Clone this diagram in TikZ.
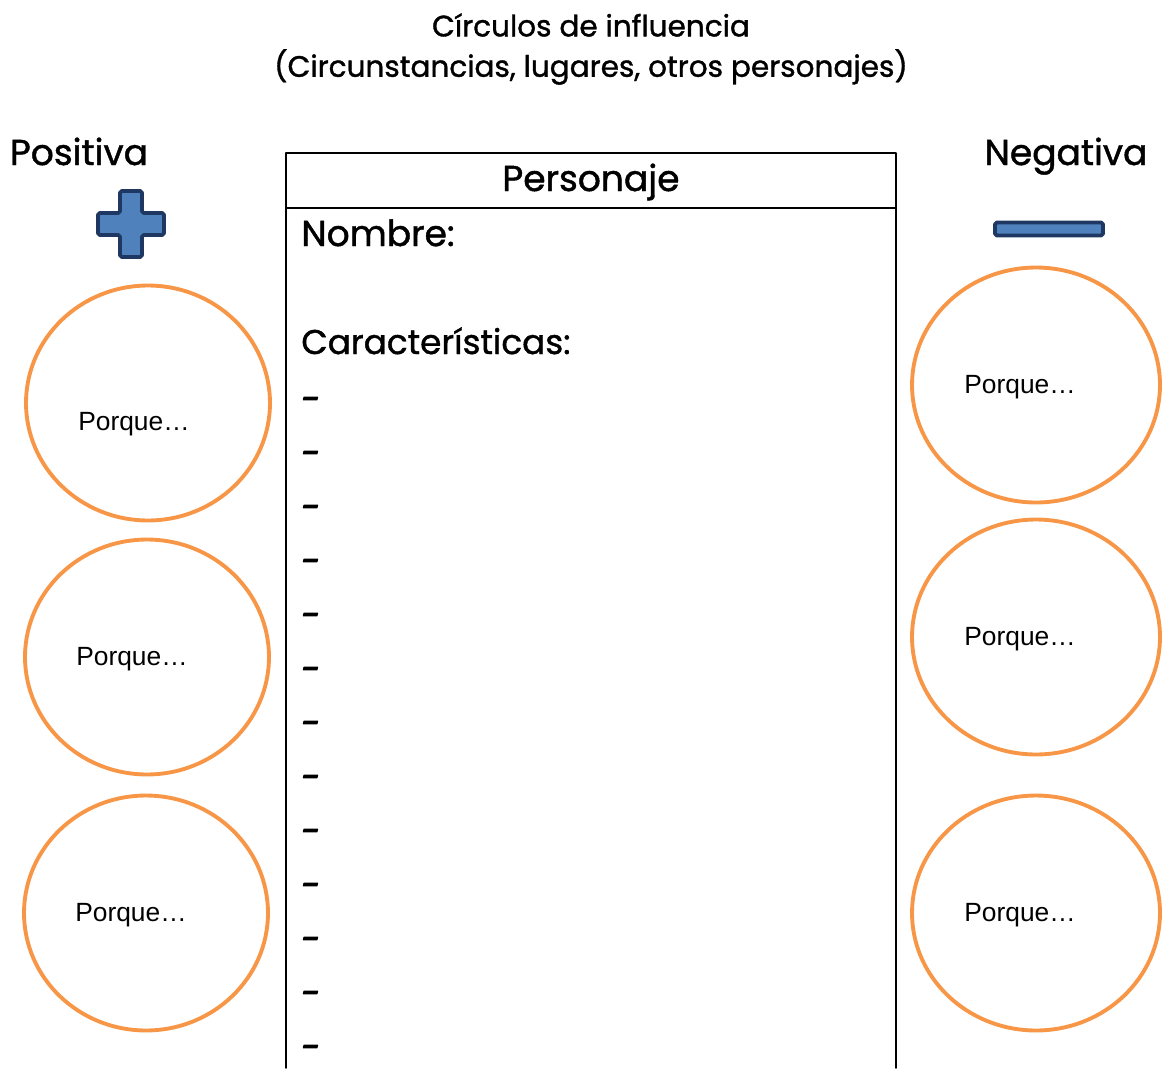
\documentclass[tikz,border=0pt]{standalone}
\usepackage{fontspec}
\setmainfont{Poppins}
\newfontfamily\headfont{Poppins}[FakeBold=1.2]
\newfontfamily\dashfont{Poppins}[FakeBold=4,FakeSlant=0.25]
\newfontfamily\arialfont{Liberation Sans}
\usetikzlibrary{calc,positioning,shapes.geometric}
\definecolor{softorange}{RGB}{247,150,70}
\definecolor{signblue}{RGB}{79,129,189}
\definecolor{signnavy}{RGB}{31,56,99}

\begin{document}
\begin{tikzpicture}[x=0.02cm,y=-0.02cm,line cap=round,line join=round]
	\useasboundingbox (0,0) rectangle (1165,1068);

	\tikzset{
		influence/.style={draw=softorange,line width=2.2pt,ellipse,minimum width=4.88cm,minimum height=4.7cm,inner sep=0pt},
		porque/.style={font=\arialfont\fontsize{15}{18}\selectfont},
		heading/.style={font=\headfont\fontsize{20.5}{24}\selectfont},
		dashmark/.style={font=\dashfont\fontsize{19}{22}\selectfont,inner sep=0pt}
	}

	% title
	\node[font=\headfont\fontsize{16.8}{19}\selectfont] (title1) at (591,25) {Círculos de influencia};
	\node[font=\headfont\fontsize{16.8}{19}\selectfont] (title2) at (591,67) {(Circunstancias, lugares, otros personajes)};

	% side headings
	\node[heading,anchor=base] (pos) at (79,165) {Positiva};
	\node[heading,anchor=base] (neg) at (1066,165) {Negativa};

	% plus sign
	\coordinate (P) at (131,224);
	\draw[signnavy,fill=signblue,line width=2.2pt,rounded corners=1pt]
		($(P)+(-11,-33)$) -- ($(P)+(11,-33)$) -- ($(P)+(11,-11)$) -- ($(P)+(33,-11)$)
		-- ($(P)+(33,11)$) -- ($(P)+(11,11)$) -- ($(P)+(11,33)$) -- ($(P)+(-11,33)$)
		-- ($(P)+(-11,11)$) -- ($(P)+(-33,11)$) -- ($(P)+(-33,-11)$) -- ($(P)+(-11,-11)$) -- cycle;

	% minus sign
	\coordinate (M) at (1049,229);
	\draw[signnavy,fill=signblue,line width=2.2pt,rounded corners=1pt]
		($(M)+(-54,-6.5)$) rectangle ($(M)+(54,6.5)$);

	% character box
	\draw[line width=1pt] (286,1068) |- (896,153) -- (896,1068);
	\draw[line width=1pt] (286,208) -- (896,208);
	\node[heading,anchor=base] (pers) at (591,191) {Personaje};
	\node[heading,anchor=base west,inner sep=0pt] (nombre) at (301,246) {Nombre:};
	\node[heading,anchor=base west,inner sep=0pt,font=\headfont\fontsize{19.5}{24}\selectfont] (carac) at (301,354) {Características:};
	\foreach \i in {0,...,12}
		\node[dashmark] (d\i) at (308,404+54*\i) {-};

	% circles, positive side
	\node[influence] (l1) at (148,403) {};
	\node[influence] (l2) at (147,657) {};
	\node[influence] (l3) at (146,913) {};
	\node[porque] (lt1) at (134,424) {Porque…};
	\node[porque] (lt2) at (132,659) {Porque…};
	\node[porque] (lt3) at (131,915) {Porque…};

	% circles, negative side
	\node[influence,minimum width=4.96cm] (r1) at (1036,385) {};
	\node[influence,minimum width=4.96cm] (r2) at (1036,637) {};
	\node[influence,minimum width=4.96cm] (r3) at (1036,913) {};
	\node[porque] (rt1) at (1020,387) {Porque…};
	\node[porque] (rt2) at (1020,639) {Porque…};
	\node[porque] (rt3) at (1020,915) {Porque…};
\end{tikzpicture}
\end{document}
